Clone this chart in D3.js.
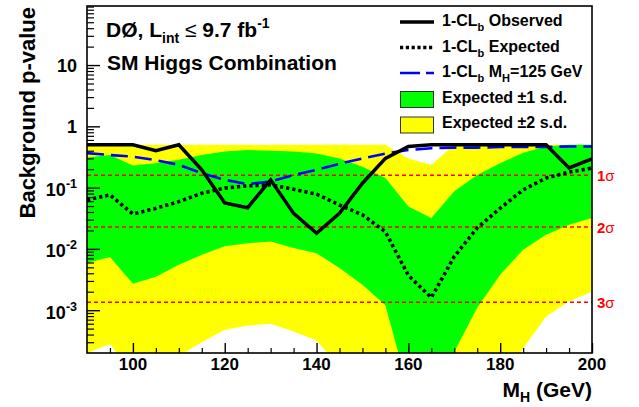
<!DOCTYPE html>
<html>
<head>
<meta charset="utf-8">
<script src="https://cdn.jsdelivr.net/npm/d3@7"></script>
<style>
body { margin: 0; background: #fff; }
svg { font-family: "Liberation Sans", Arial, Helvetica, sans-serif; font-weight: bold; }
</style>
</head>
<body>
<svg id="chart" width="639" height="407"></svg>
<script>
// Higgs mass points (GeV)
var masses = [90, 95, 100, 105, 110, 115, 120, 125, 130, 135, 140, 145, 150, 155, 160, 165, 170, 175, 180, 185, 190, 195, 200];

// 1-CLb values
var observed = [0.5, 0.5, 0.5, 0.40, 0.5, 0.195, 0.056, 0.047, 0.134, 0.038, 0.018, 0.038, 0.118, 0.30, 0.47, 0.5, 0.5, 0.5, 0.5, 0.5, 0.5, 0.21, 0.295];
var expected = [0.063, 0.076, 0.037, 0.046, 0.059, 0.081, 0.098, 0.107, 0.111, 0.094, 0.078, 0.052, 0.036, 0.019, 0.0037, 0.0016, 0.0075, 0.022, 0.046, 0.092, 0.143, 0.179, 0.208];
var injected125 = [0.366, 0.34, 0.32, 0.28, 0.235, 0.172, 0.134, 0.114, 0.126, 0.16, 0.195, 0.245, 0.30, 0.36, 0.41, 0.44, 0.45, 0.45, 0.46, 0.46, 0.46, 0.47, 0.47];

// expected bands
var band1Hi = [0.31, 0.34, 0.23, 0.25, 0.285, 0.34, 0.39, 0.41, 0.40, 0.39, 0.36, 0.30, 0.22, 0.143, 0.049, 0.032, 0.087, 0.16, 0.25, 0.37, 0.47, 0.5, 0.5];
var band1Lo = [0.0059, 0.0074, 0.0027, 0.0035, 0.0055, 0.008, 0.011, 0.0124, 0.0132, 0.0103, 0.0085, 0.0049, 0.0026, 0.0012, 0.00005, 0.00004, 0.00021, 0.0011, 0.0038, 0.0097, 0.017, 0.0247, 0.032];
var band2Hi = [0.5, 0.5, 0.5, 0.5, 0.5, 0.5, 0.5, 0.5, 0.5, 0.5, 0.5, 0.5, 0.5, 0.5, 0.30, 0.235, 0.5, 0.5, 0.5, 0.5, 0.5, 0.5, 0.5];
var band2Lo = [0.0002, 0.00028, 0.00009, 0.00012, 0.00018, 0.0003, 0.00048, 0.00056, 0.0006, 0.00045, 0.00032, 0.00012, 0.00003, 0.00001, 0.000005, 0.000005, 0.00001, 0.00002, 0.00005, 0.00024, 0.00079, 0.0014, 0.002];

// significance reference lines
var sigmaP = [0.1587, 0.02275, 0.00135];
var sigmaLabels = ["1", "2", "3"];

var xMajor = [100, 120, 140, 160, 180, 200];
var yDecades = [0.001, 0.01, 0.1, 1, 10];
var yLabelExp = ["-3", "-2", "-1", null, null];
var yLabelBase = ["10", "10", "10", "1", "10"];

var W = 639, H = 407;
var margin = {top: 6, right: 47, bottom: 54, left: 87};
var w = W - margin.left - margin.right;
var h = H - margin.top - margin.bottom;

var svg = d3.select("#chart");
var g = svg.append("g").attr("transform", "translate(" + margin.left + "," + margin.top + ")");

var x = d3.scaleLinear().domain([90, 200]).range([0, w]);
var y = d3.scaleLog().domain([2e-4, 92]).range([h, 0]);

svg.append("defs").append("clipPath").attr("id", "plotclip")
    .append("rect").attr("width", w).attr("height", h);

var plot = g.append("g").attr("clip-path", "url(#plotclip)");

var bandArea = function(lo, hi){
    return d3.area()
        .x(function(d, i){ return x(masses[i]); })
        .y0(function(d, i){ return y(lo[i]); })
        .y1(function(d, i){ return y(hi[i]); })(masses);
};

plot.append("path").attr("d", bandArea(band2Lo, band2Hi)).attr("fill", "#ffff00");
plot.append("path").attr("d", bandArea(band1Lo, band1Hi)).attr("fill", "#00ff00");

// sigma lines
plot.selectAll("line.sig")
    .data(sigmaP)
    .enter()
    .append("line")
    .attr("x1", 0).attr("x2", w)
    .attr("y1", function(d){ return y(d); })
    .attr("y2", function(d){ return y(d); })
    .attr("stroke", "#ff0000")
    .attr("stroke-width", 1.4)
    .attr("stroke-dasharray", "4,3");

var lineOf = function(vals){
    return d3.line()
        .x(function(d, i){ return x(masses[i]); })
        .y(function(d){ return y(d); })(vals);
};

plot.append("path").attr("d", lineOf(injected125))
    .attr("fill", "none").attr("stroke", "#0000ff")
    .attr("stroke-width", 2.6).attr("stroke-dasharray", "17,7");
plot.append("path").attr("d", lineOf(expected))
    .attr("fill", "none").attr("stroke", "#000")
    .attr("stroke-width", 3.6).attr("stroke-dasharray", "3.2,3");
plot.append("path").attr("d", lineOf(observed))
    .attr("fill", "none").attr("stroke", "#000")
    .attr("stroke-width", 3.5).attr("stroke-linejoin", "miter");

// sigma labels
g.selectAll("text.sig")
    .data(sigmaP)
    .enter()
    .append("text")
    .attr("x", w + 5)
    .attr("y", function(d){ return y(d) + 5.5; })
    .attr("fill", "#ff0000")
    .style("font-size", "15px")
    .each(function(d, i){
        var t = d3.select(this);
        t.append("tspan").text(sigmaLabels[i]);
        t.append("tspan").style("font-weight", "normal").text("σ");
    });

// frame
g.append("rect").attr("width", w).attr("height", h)
    .attr("fill", "none").attr("stroke", "#000").attr("stroke-width", 1.6);

// x ticks (inward)
var xMinor = d3.range(95, 200, 5).filter(function(v){ return xMajor.indexOf(v) < 0; });
g.append("g").attr("transform", "translate(0," + h + ")")
    .call(d3.axisBottom(x).tickValues(xMinor).tickSize(-5).tickFormat(""))
    .call(function(a){ a.select(".domain").remove(); a.selectAll("line").attr("stroke-width", 1.2); });
g.append("g").attr("transform", "translate(0," + h + ")")
    .call(d3.axisBottom(x).tickValues(xMajor).tickSize(-10).tickFormat(""))
    .call(function(a){ a.select(".domain").remove(); a.selectAll("line").attr("stroke-width", 1.4); });

g.selectAll("text.xl")
    .data(xMajor)
    .enter()
    .append("text")
    .attr("x", function(d){ return x(d); })
    .attr("y", h + 17)
    .attr("text-anchor", "middle")
    .style("font-size", "17px")
    .text(function(d){ return d; });

// y ticks (inward)
var yMinor = [];
[1e-4, 1e-3, 1e-2, 1e-1, 1, 10].forEach(function(dec){
    [2, 3, 4, 5, 6, 7, 8, 9].forEach(function(k){
        var v = dec * k;
        if (v > 2e-4 && v < 92) yMinor.push(v);
    });
});
g.append("g")
    .call(d3.axisLeft(y).tickValues(yMinor).tickSize(-7).tickFormat(""))
    .call(function(a){ a.select(".domain").remove(); a.selectAll("line").attr("stroke-width", 1.2); });
g.append("g")
    .call(d3.axisLeft(y).tickValues(yDecades).tickSize(-13).tickFormat(""))
    .call(function(a){ a.select(".domain").remove(); a.selectAll("line").attr("stroke-width", 1.4); });

g.selectAll("text.yl")
    .data(yDecades)
    .enter()
    .append("text")
    .attr("x", -10)
    .attr("y", function(d, i){ return y(d) + (yLabelExp[i] ? 8.5 : 7); })
    .attr("text-anchor", "end")
    .style("font-size", "18px")
    .each(function(d, i){
        var t = d3.select(this);
        t.append("tspan").text(yLabelBase[i]);
        if (yLabelExp[i]) t.append("tspan").attr("dy", -8).style("font-size", "12.5px").text(yLabelExp[i]);
    });

// axis titles
var ytitle = svg.append("text")
    .attr("transform", "translate(35,7) rotate(-90)")
    .attr("text-anchor", "end")
    .style("font-size", "22px")
    .text("Background p-value");

var xtitle = svg.append("text")
    .attr("x", 592).attr("y", 397)
    .attr("text-anchor", "end")
    .style("font-size", "21px");
xtitle.append("tspan").text("M");
xtitle.append("tspan").attr("dy", 5).style("font-size", "14px").text("H");
xtitle.append("tspan").attr("dy", -5).text(" (GeV)");

// experiment label
var lab1 = svg.append("text").attr("x", 106).attr("y", 36.5).style("font-size", "21px");
lab1.append("tspan").text("DØ, L");
lab1.append("tspan").attr("dy", 6).style("font-size", "14px").text("int");
lab1.append("tspan").attr("dy", -6).style("font-weight", "normal").text(" ≤ ");
lab1.append("tspan").text("9.7 fb");
lab1.append("tspan").attr("dy", -9).style("font-size", "14px").text("-1");

svg.append("text").attr("x", 107).attr("y", 69.5).style("font-size", "21px")
    .text("SM Higgs Combination");

// legend
var legendItems = [
    {kind: "solid", rest: " Observed"},
    {kind: "dotted", rest: " Expected"},
    {kind: "dashed", rest: " M", sub2: "H", tail: "=125 GeV"},
    {kind: "box", fill: "#00ff00", label: "Expected ±1 s.d."},
    {kind: "box", fill: "#ffff00", label: "Expected ±2 s.d."}
];
var legend = svg.append("g");
legendItems.forEach(function(d, i){
    var base = 26 + i * 25.5;
    var row = legend.append("g");
    if (d.kind === "box") {
        row.append("rect").attr("x", 400.5).attr("y", base - 11).attr("width", 33).attr("height", 16)
            .attr("fill", d.fill).attr("stroke", "#333").attr("stroke-width", 1);
        row.append("text").attr("x", 442).attr("y", base).style("font-size", "16px").text(d.label);
        return;
    }
    var ln = row.append("line").attr("x1", 400).attr("x2", 434)
        .attr("y1", base - 4).attr("y2", base - 4).attr("fill", "none");
    if (d.kind === "solid") ln.attr("stroke", "#000").attr("stroke-width", 3.5);
    if (d.kind === "dotted") ln.attr("stroke", "#000").attr("stroke-width", 3.6).attr("stroke-dasharray", "3.2,2.6");
    if (d.kind === "dashed") ln.attr("stroke", "#0000ff").attr("stroke-width", 2.6).attr("stroke-dasharray", "20,6");
    var t = row.append("text").attr("x", 442).attr("y", base).style("font-size", "16px");
    t.append("tspan").text("1-CL");
    t.append("tspan").attr("dy", 5).style("font-size", "11px").text("b");
    t.append("tspan").attr("dy", -5).text(d.rest);
    if (d.sub2) {
        t.append("tspan").attr("dy", 5).style("font-size", "11px").text(d.sub2);
        t.append("tspan").attr("dy", -5).text(d.tail);
    }
});
</script>
</body>
</html>
